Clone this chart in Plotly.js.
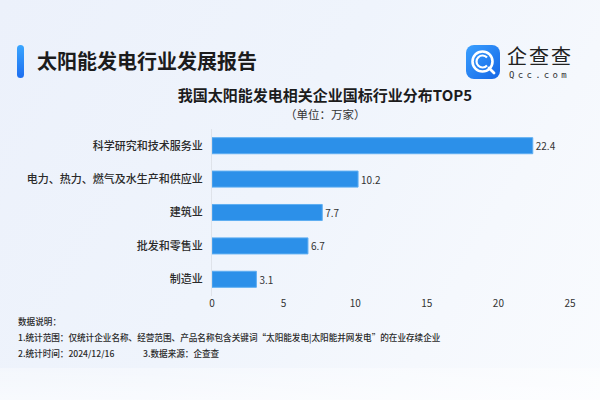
<!DOCTYPE html>
<html>
<head>
<meta charset="utf-8">
<script src="https://cdn.plot.ly/plotly-3.0.1.min.js"></script>
<style>
  html, body { margin:0; padding:0; }
  body {
    width:600px; height:400px; overflow:hidden; position:relative;
    font-family:"Noto Sans CJK SC","Noto Sans",sans-serif;
    background: linear-gradient(120deg, #ecf1fb 0%, #eff4fc 45%, #f5f8fd 75%, #f9fbfe 100%);
  }
  #fade { position:absolute; left:0; top:368px; width:600px; height:32px;
    background: linear-gradient(180deg, rgba(255,255,255,0.35), rgba(255,255,255,0.6)); }
  #chart { position:absolute; left:0; top:0; width:600px; height:400px; }
  .abs { position:absolute; white-space:nowrap; color:#222; }
  #bar { left:17px; top:45px; width:7px; height:33px; border-radius:4px;
    background: linear-gradient(180deg, #3aa6ff, #1d6ef0); }
  #head { left:37px; top:46px; font-size:20px; font-weight:700; line-height:30px; color:#1c1c1c; }
  #logo { left:466px; top:45px; width:34px; height:34px; }
  #brand { left:507px; top:46px; font-size:20px; line-height:20px; color:#222; letter-spacing:2px; }
  #url { left:509px; top:71px; font-size:9px; line-height:9px; color:#333; letter-spacing:3.3px; font-family:"DejaVu Sans Mono",monospace; }
  .foot { font-size:8.6px; line-height:11px; color:#2a2a2a; left:18px; font-weight:500; }
</style>
</head>
<body>
<div id="fade"></div>
<div id="chart"></div>
<div class="abs" id="bar"></div>
<div class="abs" id="head">太阳能发电行业发展报告</div>
<svg class="abs" id="logo" viewBox="0 0 34 34">
  <defs><linearGradient id="lg" x1="0" y1="0" x2="1" y2="1">
    <stop offset="0" stop-color="#3aa0ff"/><stop offset="1" stop-color="#1566e6"/></linearGradient></defs>
  <rect x="0" y="0" width="34" height="34" rx="8" fill="url(#lg)"/>
  <circle cx="16.5" cy="16.5" r="10" fill="none" stroke="#fff" stroke-width="2.6"/>
  <path d="M21 12.5 A6 6 0 1 0 21 20.5" fill="none" stroke="#fff" stroke-width="2.2"/>
  <line x1="23" y1="23" x2="28" y2="28" stroke="#fff" stroke-width="2.8" stroke-linecap="round"/>
</svg>
<div class="abs" id="brand">企查查</div>
<div class="abs" id="url">Qcc.com</div>
<div class="abs foot" style="top:316px;">数据说明：</div>
<div class="abs foot" style="top:332px;">1.统计范围：仅统计企业名称、经营范围、产品名称包含关键词“太阳能发电|太阳能并网发电”的在业存续企业</div>
<div class="abs foot" style="top:348px;">2.统计时间：2024/12/16</div>
<div class="abs foot" style="top:348px; left:143px;">3.数据来源：企查查</div>
<script>
const categories = ["科学研究和技术服务业", "电力、热力、燃气及水生产和供应业", "建筑业", "批发和零售业", "制造业"];
const values = [22.4, 10.2, 7.7, 6.7, 3.1];
const valueLabels = ["22.4", "10.2", "7.7", "6.7", "3.1"];
const xTicks = [0, 5, 10, 15, 20, 25];
const chartTitle = "我国太阳能发电相关企业国标行业分布TOP5";
const unitText = "（单位：万家）";

const font = "Noto Sans CJK SC, Noto Sans, sans-serif";

Plotly.newPlot("chart", [{
  type: "bar",
  orientation: "h",
  x: values,
  y: categories,
  text: valueLabels,
  textposition: "outside",
  cliponaxis: false,
  textfont: { size: 10, color: "#333", family: font },
  marker: { color: "#2c90e9", line: { color: "#5eaef2", width: 1 } },
  hoverinfo: "none"
}], {
  width: 600, height: 400,
  margin: { l: 212, r: 30, t: 129, b: 104 },
  paper_bgcolor: "rgba(0,0,0,0)",
  plot_bgcolor: "rgba(0,0,0,0)",
  bargap: 0.52,
  showlegend: false,
  font: { family: font, color: "#333" },
  title: {
    text: chartTitle,
    x: 325 / 600, xref: "container", xanchor: "center",
    y: 1 - 96 / 400, yref: "container", yanchor: "middle",
    font: { size: 15, color: "#1c1c1c", family: font, weight: 700 }
  },
  annotations: [{
    text: unitText, xref: "paper", yref: "paper",
    x: (325 - 212) / 358, y: (296 - 114) / 167,
    xanchor: "center", yanchor: "middle", showarrow: false,
    font: { size: 11.5, color: "#333", family: font }
  }],
  xaxis: {
    range: [0, 25], tickvals: xTicks, ticktext: xTicks.map(String),
    showgrid: false, zeroline: false, showline: false, ticks: "",
    tickfont: { size: 10, color: "#333", family: font }
  },
  yaxis: {
    autorange: "reversed", showgrid: false, zeroline: false,
    showline: true, linecolor: "#dfe3ea", linewidth: 1,
    ticks: "", ticklabelstandoff: 6,
    tickfont: { size: 11, color: "#2a2a2a", family: font, weight: 500 }
  }
}, { staticPlot: true, displayModeBar: false });
</script>
</body>
</html>
